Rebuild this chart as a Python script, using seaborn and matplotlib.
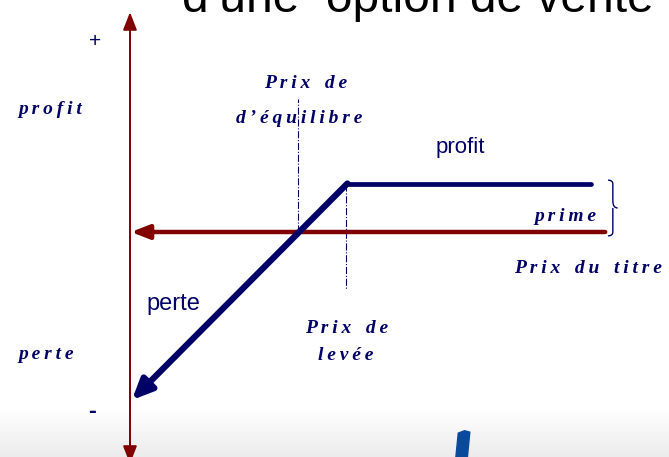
import numpy as np
import pandas as pd
import matplotlib
matplotlib.use("Agg")
import matplotlib.pyplot as plt
import seaborn as sns
from matplotlib.path import Path
from matplotlib.patches import PathPatch, Polygon

sns.set_theme(style="white")

# Payoff of a written put: premium received, strike price, price range
strike = 45.0
premium = 10.0
breakeven = strike - premium
price_max = 96.0
axis_right = 99.0

prices = [0.0, strike, price_max]
profits = [premium - strike, premium, premium]

NAVY = "#000066"
RED = "#800000"
TS = "\u2009"  # thin space used as letter spacing


def spaced(*words):
    return "   ".join(TS.join(w) for w in words)


fig = plt.figure(figsize=(6.69, 4.57), dpi=100)
ax = fig.add_axes([0, 0, 1, 1])
ax.set_xlim(-27.08, 112.3)
ax.set_ylim(-46.875, 48.33)
ax.axis("off")

# soft grey band along the bottom
grad = np.linspace(0, 1, 100).reshape(-1, 1)
ax.imshow(grad, extent=(-27.08, 112.3, -46.875, -36.9),
          cmap=matplotlib.colors.LinearSegmentedColormap.from_list("g", ["#ececec", "#ffffff"]),
          aspect="auto", origin="lower", zorder=0)

# small logo fragment
ax.add_patch(Polygon([(67.9, -46.875), (70.3, -46.875), (70.8, -41.7), (69.7, -41.4), (68.4, -41.9)],
                     closed=True, color="#0b4a9b", zorder=1))

# vertical (profit) axis with arrowheads at both ends
ax.plot([0, 0], [-45.5, 44.0], color=RED, lw=1.4, zorder=2)
ax.annotate("", xy=(0, 45.8), xytext=(0, 42.0), annotation_clip=False,
            arrowprops=dict(arrowstyle="-|>,head_length=0.9,head_width=0.35", color=RED, lw=1.4, shrinkA=0, shrinkB=0))
ax.annotate("", xy=(0, -48.3), xytext=(0, -44.0), annotation_clip=False,
            arrowprops=dict(arrowstyle="-|>,head_length=0.9,head_width=0.35", color=RED, lw=1.4, shrinkA=0, shrinkB=0))

# horizontal (price) axis pointing left
ax.annotate("", xy=(0.2, 0), xytext=(axis_right, 0),
            arrowprops=dict(arrowstyle="-|>,head_length=0.9,head_width=0.35", color=RED, lw=3.2, shrinkA=0, shrinkB=0))

# guide lines at breakeven and strike
ax.plot([breakeven, breakeven], [0, 27.7], color=NAVY, lw=0.8, ls="-.")
ax.plot([strike, strike], [premium, -12.0], color=NAVY, lw=0.8, ls="-.")

# payoff: flat premium line and sloped loss segment
df = pd.DataFrame({"prix": prices[1:], "profit": profits[1:]})
sns.lineplot(data=df, x="prix", y="profit", ax=ax, color=NAVY, lw=3.4, solid_capstyle="round")
ax.annotate("", xy=(prices[0] + 0.4, profits[0]), xytext=(strike + 0.3, premium + 0.1),
            arrowprops=dict(arrowstyle="-|>,head_length=1.0,head_width=0.45", color=NAVY, lw=4.5, shrinkA=0, shrinkB=0))

# brace marking the premium
bx = axis_right + 0.6
w = 1.0
verts = [(bx, premium + 0.8), (bx + w, premium + 0.8), (bx + w, premium), (bx + w, premium / 2 + 1.5),
         (bx + w, premium / 2), (bx + 2 * w, premium / 2), (bx + w, premium / 2),
         (bx + w, premium / 2 - 1.5), (bx + w, 0), (bx + w, -0.8), (bx, -0.8)]
codes = [Path.MOVETO, Path.CURVE3, Path.CURVE3, Path.LINETO, Path.CURVE3, Path.CURVE3,
         Path.MOVETO, Path.LINETO, Path.LINETO, Path.CURVE3, Path.CURVE3]
ax.add_patch(PathPatch(Path(verts, codes), fill=False, ec=NAVY, lw=1.0))

serif = dict(family="Liberation Serif", style="italic", fontweight="bold", color=NAVY)
sans = dict(family="Liberation Sans", color=NAVY)

ax.text(-7.3, 39.7, "+", fontsize=15, ha="center", va="center", **sans)
ax.text(-7.9, -37.3, "-", fontsize=17, ha="center", va="center", fontweight="bold", **sans)
ax.text(-23.3, 25.6, spaced("profit"), fontsize=14, ha="left", va="center", **serif)
ax.text(-23.3, -25.5, spaced("perte"), fontsize=14, ha="left", va="center", **serif)
ax.text(36.5, 31.0, spaced("Prix", "de"), fontsize=14, ha="center", va="center", **serif)
ax.text(35.2, 23.7, spaced("d’équilibre"), fontsize=14, ha="center", va="center", **serif)
ax.text(strike + 0.2, -20.1, spaced("Prix", "de"), fontsize=14, ha="center", va="center", **serif)
ax.text(strike, -25.8, spaced("levée"), fontsize=14, ha="center", va="center", **serif)
ax.text(68.9, 17.6, "profit", fontsize=16, ha="center", va="center", **sans)
ax.text(3.5, -15.0, "perte", fontsize=17, ha="left", va="center", **sans)
ax.text(97.2, 3.3, spaced("prime"), fontsize=14, ha="right", va="center", **serif)
ax.text(110.8, -7.6, spaced("Prix", "du", "titre"), fontsize=14, ha="right", va="center", **serif)

# heading line, cut by the top edge
ax.text(10.8, 45.8, "d’une  option de vente", fontsize=34.5, ha="left", va="baseline",
        family="Liberation Sans", color="black", clip_on=False)

fig.savefig("out.png", dpi=100)
